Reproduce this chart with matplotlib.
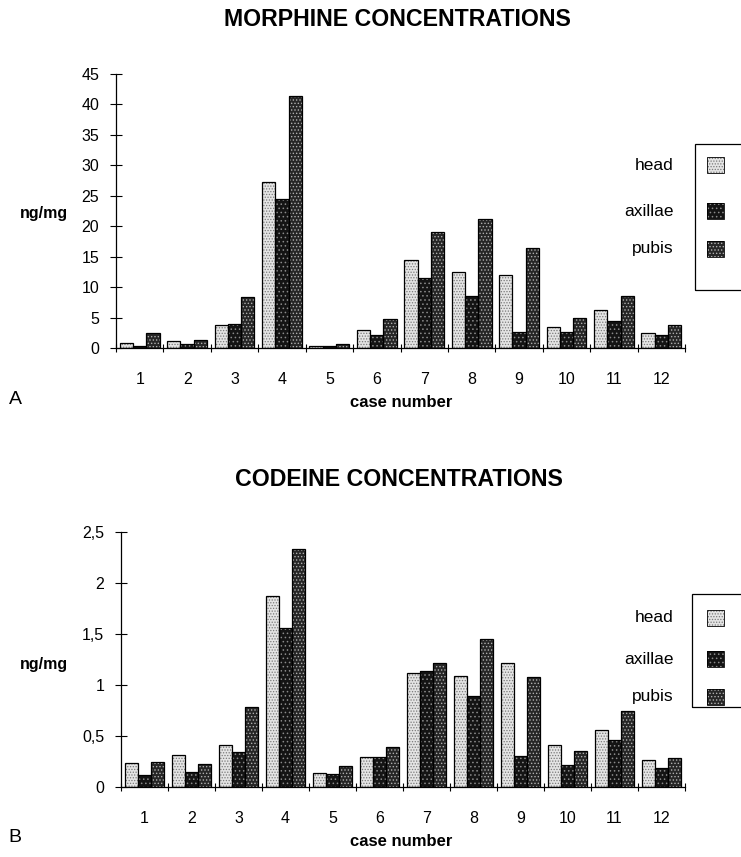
import matplotlib
matplotlib.use("Agg")
import matplotlib.pyplot as plt
import numpy as np
from matplotlib.patches import Rectangle

plt.rcParams["font.family"] = ["Liberation Sans", "DejaVu Sans"]
plt.rcParams["hatch.linewidth"] = 0.6

cases = ["1", "2", "3", "4", "5", "6", "7", "8", "9", "10", "11", "12"]
regions = ["head", "axillae", "pubis"]

# ng/mg
morphine_head = [0.8, 1.2, 3.7, 27.2, 0.3, 2.9, 14.4, 12.4, 12.0, 3.4, 6.2, 2.4]
morphine_axillae = [0.4, 0.65, 4.0, 24.5, 0.3, 2.2, 11.5, 8.5, 2.6, 2.6, 4.4, 2.1]
morphine_pubis = [2.4, 1.3, 8.3, 41.4, 0.7, 4.8, 19.1, 21.2, 16.5, 4.9, 8.6, 3.7]

codeine_head = [0.24, 0.31, 0.41, 1.87, 0.14, 0.29, 1.12, 1.09, 1.22, 0.41, 0.56, 0.26]
codeine_axillae = [0.12, 0.15, 0.34, 1.56, 0.125, 0.29, 1.14, 0.89, 0.305, 0.22, 0.46, 0.19]
codeine_pubis = [0.25, 0.23, 0.78, 2.33, 0.21, 0.39, 1.22, 1.455, 1.08, 0.35, 0.75, 0.285]

# face colour, stipple colour
styles = [("#e4e4e4", "#7a7a7a"), ("#141414", "#8a8a8a"), ("#262626", "#b0b0b0")]
hatches = ["......", "....", "....."]

W, H = 741, 857
fig = plt.figure(figsize=(W / 100, H / 100), dpi=100)


def fx(px):
    return px / W


def fy(py):
    return 1 - py / H


def draw_panel(ax, series, ymax, step, ylabels):
    n = len(cases)
    x = np.arange(n)
    bw = 0.28
    for i, vals in enumerate(series):
        face, dots = styles[i]
        pos = x + (i - 1) * bw
        ax.bar(pos, vals, bw, color=face, edgecolor=dots, hatch=hatches[i],
               linewidth=0, zorder=2)
        ax.bar(pos, vals, bw, facecolor="none", edgecolor="black",
               linewidth=0.9, zorder=3)
    ax.set_xlim(-0.5, n - 0.5)
    ax.set_ylim(0, ymax)
    ax.set_yticks(np.arange(0, ymax + step / 2, step))
    ax.set_yticklabels(ylabels)
    ax.set_xticks(x)
    ax.set_xticklabels(cases)
    ax.set_xticks(np.arange(-0.5, n, 1.0), minor=True)
    ax.tick_params(axis="x", which="major", length=0, pad=17, labelsize=11.5)
    ax.tick_params(axis="x", which="minor", length=6, direction="inout",
                   width=0.8)
    ax.tick_params(axis="y", length=8, direction="inout", width=0.8,
                   pad=8, labelsize=11.5)
    for s in ("top", "right"):
        ax.spines[s].set_visible(False)
    for s in ("left", "bottom"):
        ax.spines[s].set_linewidth(0.9)


def draw_legend(left, top, bottom, label_x, rows):
    fig.patches.append(Rectangle((fx(left), fy(bottom)), fx(W + 10 - left),
                                 fy(top) - fy(bottom), transform=fig.transFigure,
                                 fill=False, edgecolor="black", linewidth=0.9))
    for i, yc in enumerate(rows):
        fig.text(fx(label_x), fy(yc), regions[i], ha="right", va="center",
                 fontsize=12.5)
        face, dots = styles[i]
        for kw in (dict(facecolor=face, edgecolor=dots, hatch=hatches[i],
                        linewidth=0),
                   dict(facecolor="none", edgecolor="black", linewidth=0.6)):
            fig.patches.append(Rectangle((fx(707), fy(yc + 8)), fx(17),
                                         fy(yc - 8) - fy(yc + 8),
                                         transform=fig.transFigure, **kw))


# --- A: morphine ---
axA = fig.add_axes([fx(116), fy(348), fx(685 - 116), fy(74) - fy(348)])
draw_panel(axA, [morphine_head, morphine_axillae, morphine_pubis], 45, 5,
           [str(v) for v in range(0, 50, 5)])
fig.text(fx(397), fy(19), "MORPHINE CONCENTRATIONS", ha="center", va="center",
         fontsize=16.7, fontweight="bold")
fig.text(fx(68), fy(213), "ng/mg", ha="right", va="center", fontsize=11.5,
         fontweight="bold")
fig.text(fx(401), fy(402), "case number", ha="center", va="center",
         fontsize=12, fontweight="bold")
fig.text(fx(15), fy(399), "A", ha="center", va="center", fontsize=14)
draw_legend(695, 144, 290, 674, [165, 211, 249])

# --- B: codeine ---
axB = fig.add_axes([fx(121), fy(787), fx(685 - 121), fy(532) - fy(787)])
draw_panel(axB, [codeine_head, codeine_axillae, codeine_pubis], 2.5, 0.5,
           ["0", "0,5", "1", "1,5", "2", "2,5"])
fig.text(fx(399), fy(480), "CODEINE CONCENTRATIONS", ha="center", va="center",
         fontsize=16.7, fontweight="bold")
fig.text(fx(68), fy(664), "ng/mg", ha="right", va="center", fontsize=11.5,
         fontweight="bold")
fig.text(fx(401), fy(841), "case number", ha="center", va="center",
         fontsize=12, fontweight="bold")
fig.text(fx(15), fy(837), "B", ha="center", va="center", fontsize=14)
draw_legend(692, 594, 707, 674, [618, 659, 697])

fig.savefig("out.png", dpi=100)
